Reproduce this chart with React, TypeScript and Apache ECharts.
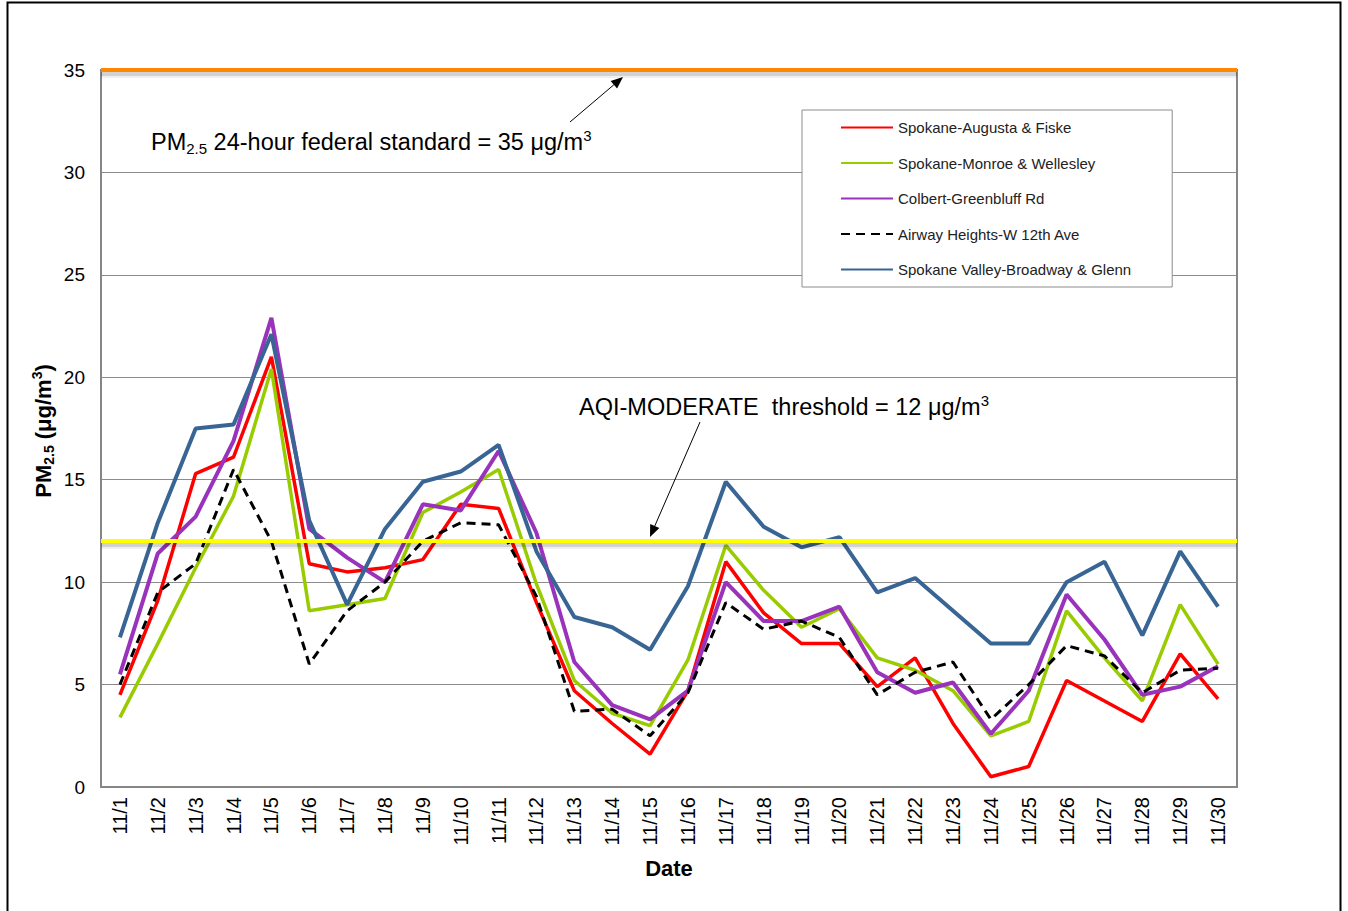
import React, { useEffect, useRef } from 'react';
import * as echarts from 'echarts';

const dates = ['11/1','11/2','11/3','11/4','11/5','11/6','11/7','11/8','11/9','11/10','11/11','11/12','11/13','11/14','11/15','11/16','11/17','11/18','11/19','11/20','11/21','11/22','11/23','11/24','11/25','11/26','11/27','11/28','11/29','11/30'];

const augusta = [4.5, 9.1, 15.3, 16.1, 21.0, 10.9, 10.5, 10.7, 11.1, 13.8, 13.6, 9.0, 4.7, 3.1, 1.6, 4.7, 11.0, 8.5, 7.0, 7.0, 4.9, 6.3, 3.1, 0.5, 1.0, 5.2, 4.2, 3.2, 6.5, 4.3];
const monroe = [3.4, 7.0, 10.7, 14.2, 20.4, 8.6, 8.9, 9.2, 13.4, 14.4, 15.5, 9.9, 5.2, 3.6, 3.0, 6.2, 11.8, 9.6, 7.8, 8.7, 6.3, 5.7, 4.7, 2.5, 3.2, 8.6, 6.3, 4.2, 8.9, 6.0];
const colbert = [5.5, 11.4, 13.2, 16.9, 22.9, 12.6, 11.2, 10.0, 13.8, 13.5, 16.4, 12.4, 6.1, 4.0, 3.3, 4.7, 10.0, 8.1, 8.1, 8.8, 5.6, 4.6, 5.1, 2.6, 4.7, 9.4, 7.2, 4.5, 4.9, 5.9];
const airway = [5.0, 9.5, 10.9, 15.5, 12.0, 6.0, 8.6, 10.0, 12.0, 12.9, 12.8, 9.3, 3.7, 3.8, 2.5, 4.6, 9.0, 7.7, 8.1, 7.3, 4.5, 5.6, 6.1, 3.3, 5.0, 6.9, 6.4, 4.6, 5.7, 5.8];
const valley = [7.3, 12.9, 17.5, 17.7, 22.1, 13.0, 8.9, 12.6, 14.9, 15.4, 16.7, 11.5, 8.3, 7.8, 6.7, 9.8, 14.9, 12.7, 11.7, 12.2, 9.5, 10.2, 8.6, 7.0, 7.0, 10.0, 11.0, 7.4, 11.5, 8.8];

const seriesNames = [
  'Spokane-Augusta & Fiske',
  'Spokane-Monroe & Wellesley',
  'Colbert-Greenbluff Rd',
  'Airway Heights-W 12th Ave',
  'Spokane Valley-Broadway & Glenn',
];

const federalStandard = 35;
const aqiModerate = 12;

const FONT = '"Liberation Sans", Arial, Helvetica, sans-serif';

function arrow(x1: number, y1: number, x2: number, y2: number) {
  const dx = x2 - x1, dy = y2 - y1;
  const len = Math.sqrt(dx * dx + dy * dy);
  const ux = dx / len, uy = dy / len;
  const hl = 12, hw = 5;
  const bx = x2 - ux * hl, by = y2 - uy * hl;
  const nx = -uy, ny = ux;
  return [
    { type: 'line', z: 100, shape: { x1, y1, x2: bx, y2: by }, style: { stroke: '#000', lineWidth: 1 } },
    { type: 'polygon', z: 100, shape: { points: [[x2, y2], [bx + nx * hw, by + ny * hw], [bx - nx * hw, by - ny * hw]] }, style: { fill: '#000' } },
  ];
}

// soft drop shadow beneath a threshold line, expressed as faint lines slightly below it
function thresholdLines(value: number, color: string) {
  const unit = 35 / 717; // value per pixel on this axis
  return [
    { yAxis: value - 5 * unit, lineStyle: { color: 'rgba(0,0,0,0.06)', width: 6, type: 'solid' } },
    { yAxis: value - 3.5 * unit, lineStyle: { color: 'rgba(0,0,0,0.12)', width: 4, type: 'solid' } },
    { yAxis: value, lineStyle: { color, width: 4, type: 'solid' } },
  ];
}

export default function App() {
  const ref = useRef<HTMLDivElement>(null);
  useEffect(() => {
    if (!ref.current) return;
    const chart = echarts.init(ref.current, null, { renderer: 'svg' });
    const lineSeries = (name: string, data: number[], color: string, width: number, dashed = false, extra: any = {}) => ({
      type: 'line',
      name,
      data,
      symbol: 'none',
      showSymbol: false,
      lineStyle: { color, width, type: dashed ? [9, 6] : 'solid' },
      itemStyle: { color },
      z: 2,
      ...extra,
    });
    const richMain = {
      n: { fontFamily: FONT, fontSize: 23.5, lineHeight: 28, color: '#000' },
      sub: { fontFamily: FONT, fontSize: 15, lineHeight: 10, verticalAlign: 'bottom', color: '#000' },
      sup: { fontFamily: FONT, fontSize: 15, lineHeight: 15, verticalAlign: 'top', color: '#000' },
    };
    const richBold = {
      n: { fontFamily: FONT, fontSize: 22, fontWeight: 'bold', lineHeight: 26, color: '#000' },
      sub: { fontFamily: FONT, fontSize: 14, fontWeight: 'bold', lineHeight: 10, verticalAlign: 'bottom', color: '#000' },
      sup: { fontFamily: FONT, fontSize: 14, fontWeight: 'bold', lineHeight: 14, verticalAlign: 'top', color: '#000' },
    };
    chart.setOption({
      animation: false,
      backgroundColor: '#fff',
      grid: { left: 101, top: 70, right: 111, bottom: 124, show: true, borderColor: '#868686', borderWidth: 2, containLabel: false },
      legend: {
        orient: 'vertical',
        left: 802,
        top: 110,
        padding: [10, 41, 10, 38],
        itemWidth: 52,
        itemHeight: 14,
        itemGap: 20.5,
        borderColor: '#8c8c8c',
        borderWidth: 1,
        backgroundColor: '#fff',
        itemStyle: { opacity: 0 },
        textStyle: { fontFamily: FONT, fontSize: 15, color: '#222', lineHeight: 14 },
        data: seriesNames,
      },
      xAxis: {
        type: 'category',
        data: dates,
        boundaryGap: true,
        axisLine: { lineStyle: { color: '#868686', width: 2 } },
        axisTick: { show: false },
        axisLabel: { rotate: 90, interval: 0, fontFamily: FONT, fontSize: 20, color: '#000', margin: 10 },
        name: 'Date',
        nameLocation: 'middle',
        nameGap: 70,
        nameTextStyle: { fontFamily: FONT, fontSize: 22, fontWeight: 'bold', color: '#000' },
      },
      yAxis: {
        type: 'value',
        min: 0,
        max: 35,
        interval: 5,
        axisLine: { show: true, lineStyle: { color: '#868686', width: 2 } },
        axisTick: { show: false },
        axisLabel: { fontFamily: FONT, fontSize: 19, color: '#000', margin: 16 },
        splitLine: { lineStyle: { color: '#8c8c8c', width: 1 } },
      },
      series: [
        lineSeries(seriesNames[0], augusta, '#FF0000', 3.5),
        lineSeries(seriesNames[1], monroe, '#99CC00', 3.5),
        lineSeries(seriesNames[2], colbert, '#9933BB', 4),
        lineSeries(seriesNames[3], airway, '#000000', 3, true),
        lineSeries(seriesNames[4], valley, '#386594', 4, false, {
          markLine: {
            symbol: 'none',
            silent: true,
            label: { show: false },
            data: [
              ...thresholdLines(federalStandard, '#FF8800'),
              ...thresholdLines(aqiModerate, '#FFFF00'),
            ],
          },
        }),
      ],
      graphic: [
        { type: 'rect', shape: { x: 7.5, y: 2.5, width: 1333, height: 960 }, style: { fill: 'none', stroke: '#000', lineWidth: 2 }, z: 100, silent: true },
        {
          type: 'text', x: 151, y: 142, z: 100,
          style: { text: '{n|PM}{sub|2.5}{n| 24-hour federal standard = 35 μg/m}{sup|3}', rich: richMain, textAlign: 'left', textVerticalAlign: 'middle' },
        },
        {
          type: 'text', x: 579, y: 407, z: 100,
          style: { text: '{n|AQI-MODERATE  threshold = 12 μg/m}{sup|3}', rich: richMain, textAlign: 'left', textVerticalAlign: 'middle' },
        },
        {
          type: 'text', x: 43, y: 431, rotation: Math.PI / 2, z: 100,
          style: { text: '{n|PM}{sub|2.5}{n| (μg/m}{sup|3}{n|)}', rich: richBold, textAlign: 'center', textVerticalAlign: 'middle' },
        },
        ...arrow(570, 122, 623, 77),
        ...arrow(700, 422, 650, 537),
      ],
    });
    return () => chart.dispose();
  }, []);
  return <div ref={ref} style={{ position: 'absolute', left: 0, top: 0, width: 1348, height: 911 }} />;
}
